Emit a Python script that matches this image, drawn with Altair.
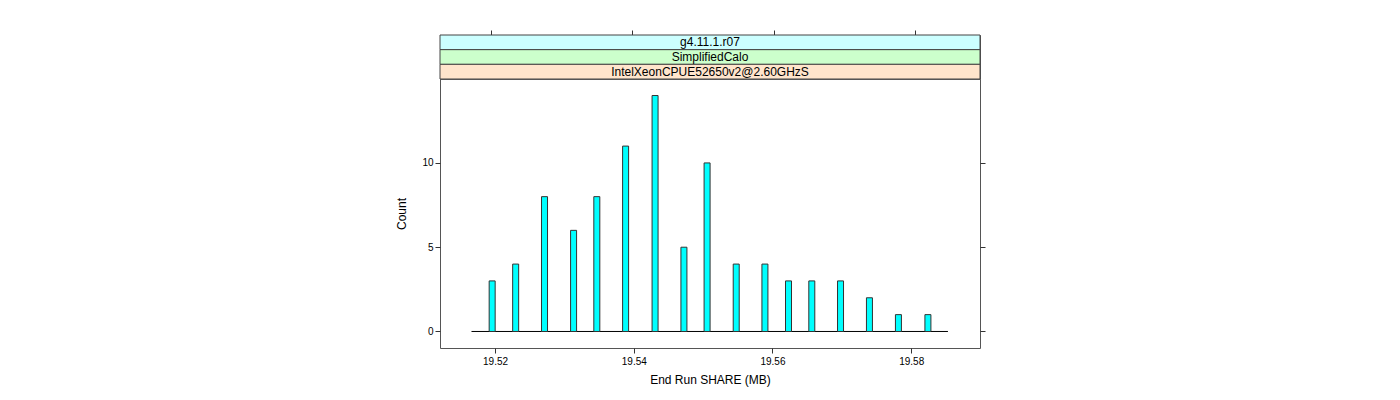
import altair as alt
import pandas as pd

# ---- data ----
share_mb = [19.51958, 19.52297, 19.52713, 19.53132, 19.53467, 19.53882, 19.54307,
            19.54723, 19.55057, 19.55477, 19.55891, 19.56231, 19.56567, 19.56981,
            19.57398, 19.57816, 19.58241]
counts = [3, 4, 8, 6, 8, 11, 14, 5, 10, 4, 4, 3, 3, 3, 2, 1, 1]
baseline_range = [19.5166, 19.5853]
strip_labels = ["g4.11.1.r07", "SimplifiedCalo", "IntelXeonCPUE52650v2@2.60GHzS"]
strip_colors = ["#CCFFFF", "#CCFFCC", "#FFE5CC"]
x_ticks = [19.52, 19.54, 19.56, 19.58]
y_ticks = [0, 5, 10]
x_domain = [19.51278, 19.5892]
y_domain = [-0.98, 14.98]

FONT = "Liberation Sans"
W = 540
H_MAIN = 269
H_STRIP = 44

df = pd.DataFrame({"share": share_mb, "count": counts})
base_df = pd.DataFrame({"share": [baseline_range[0]], "share_end": [baseline_range[1]], "count": [0]})
strips = pd.DataFrame({"label": strip_labels, "color": strip_colors})

xscale = alt.Scale(domain=x_domain, nice=False, zero=False)
yscale = alt.Scale(domain=y_domain, nice=False, zero=False)

x_axis = alt.Axis(values=x_ticks, format=".2f", title="End Run SHARE (MB)",
                  tickSize=5, labelPadding=3, titlePadding=8)


def x_enc():
    return alt.X("share:Q", scale=xscale, axis=x_axis)


baseline = alt.Chart(base_df).mark_rule(color="black", strokeWidth=1).encode(
    x=x_enc(),
    x2="share_end:Q",
    y=alt.Y("count:Q", scale=yscale, axis=None),
)

bars = alt.Chart(df).mark_bar(size=6, fill="#00FFFF", stroke="#333333", strokeWidth=1).encode(
    x=x_enc(),
    y=alt.Y("count:Q", scale=yscale,
            axis=alt.Axis(values=y_ticks, format="d", title="Count", tickSize=5,
                          labelPadding=2, titlePadding=13)),
    y2=alt.datum(0),
)

right_ticks = alt.Chart(df).mark_point(opacity=0).encode(
    x=x_enc(),
    y=alt.Y("count:Q", scale=yscale,
            axis=alt.Axis(orient="right", values=y_ticks, labels=False, title=None, tickSize=5)),
)

main = alt.layer(baseline, bars, right_ticks).resolve_axis(y="independent").properties(
    width=W, height=H_MAIN
)

ystrip = alt.Y("label:N", sort=strip_labels,
               scale=alt.Scale(paddingInner=0, paddingOuter=0), axis=None)

rects = alt.Chart(strips).mark_rect(stroke="#444444", strokeWidth=1).encode(
    y=ystrip,
    x=alt.value(0),
    x2=alt.value(W),
    color=alt.Color("color:N", scale=None),
)
texts = alt.Chart(strips).mark_text(font=FONT, fontSize=12, color="black").encode(
    y=ystrip,
    x=alt.value(W / 2),
    text="label:N",
)
top_ticks = alt.Chart(pd.DataFrame({"share": x_ticks})).mark_point(opacity=0).encode(
    x=alt.X("share:Q", scale=xscale,
            axis=alt.Axis(orient="top", values=x_ticks, labels=False, title=None,
                          tickSize=5)),
    y=alt.value(0),
)
strip_chart = alt.layer(rects, texts, top_ticks).properties(width=W, height=H_STRIP)

chart = alt.vconcat(strip_chart, main, spacing=0, bounds="flush").properties(
    padding={"left": 387, "top": 21, "right": 5, "bottom": 5}
).configure_view(
    stroke="#555555", strokeWidth=1
).configure_axis(
    grid=False, domain=False,
    labelFont=FONT, titleFont=FONT,
    labelFontSize=10, titleFontSize=12,
    labelColor="black", titleColor="black",
    titleFontWeight="normal",
    tickColor="#333333",
)

chart.save("out.html", embed_options={"renderer": "svg", "actions": False})
